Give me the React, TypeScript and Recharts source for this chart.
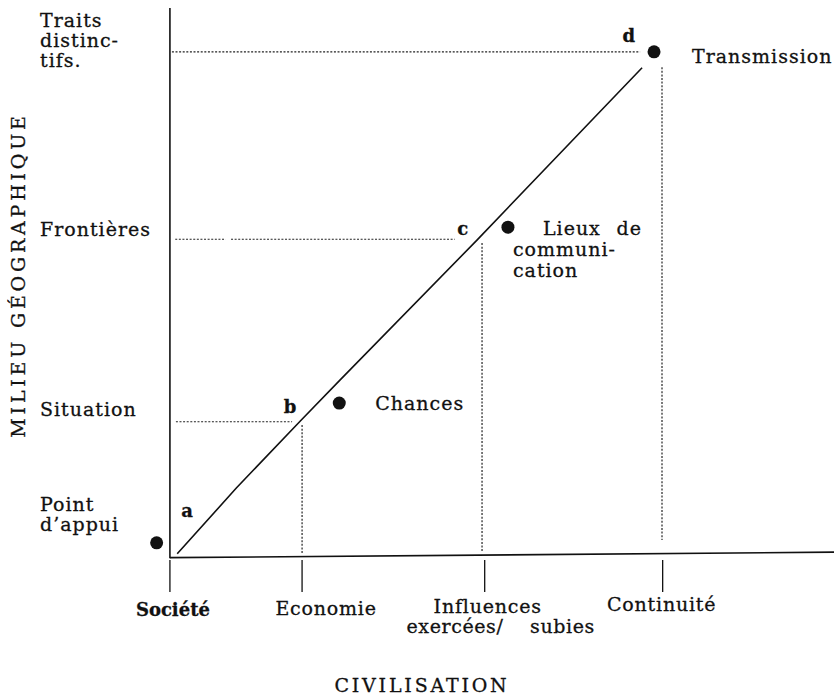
import React from 'react';
import {
  ComposedChart, Line, Scatter, XAxis, YAxis, ReferenceLine, Label,
} from 'recharts';

// curve a -> b -> c -> d
const curveX = [1.1, 10.0, 19.6, 25.6, 46.2, 71.1];
const curveY = [0.4, 12.4, 24.6, 32.1, 57.6, 89.1];

// black dots
const dotNames = ['appui', 'Chances', 'Lieux', 'Transmission'];
const dotX = [-2.0, 25.5, 50.9, 72.9];
const dotY = [2.4, 27.9, 60.0, 92.0];

// small letters along the curve
const letterNames = ['a', 'b', 'c', 'd'];
const letterX = [2.6, 18.1, 44.1, 69.1];
const letterY = [7.1, 26.1, 58.6, 93.8];

// x axis (CIVILISATION)
const xTickValues = [0, 19.9, 47.4, 74.2];
const xTickLabels = ['Société', 'Economie', 'Influences', 'Continuité'];
const xTickSubLabels = ['', '', 'exercées/    subies', ''];

// y axis (MILIEU GÉOGRAPHIQUE)
const yTickValues = [2.4, 24.5, 57.8, 92.0];
const yTickLabels = [['Point', 'd\u2019appui'], ['Situation'], ['Frontières'], ['Traits', 'distinc-', 'tifs.']];

// dotted guides: [x1, y1, x2, y2]
const hGuides = [
  [0.3, 92.0, 70.8, 92.0],
  [0.8, 57.8, 8.4, 57.8],
  [9.2, 57.8, 42.9, 57.8],
  [0.9, 24.5, 18.4, 24.5],
];
const vGuides = [
  [19.9, 23.9, 19.9, 0.5],
  [47.0, 57.1, 47.0, 0.7],
  [74.1, 89.2, 74.1, 2.9],
];

const curve = curveX.map((x, i) => ({ x, y: curveY[i] }));
const dots = dotNames.map((name, i) => ({ name, x: dotX[i], y: dotY[i] }));
const letters = letterNames.map((name, i) => ({ name, x: letterX[i], y: letterY[i] }));

const FONT = "'DejaVu Serif', serif";
const INK = '#111';

const textStyle = {
  fontFamily: FONT, fontSize: 19, letterSpacing: 1, fill: INK, stroke: INK, strokeWidth: 0.3,
};

// text next to dots: [text, dx, dy, anchor]
const DOT_TEXT: Record<string, [string, number, number, string][]> = {
  appui: [],
  Chances: [['Chances', 36, 7, 'start']],
  Lieux: [
    ['Lieux', 35, 8, 'start'],
    ['de', 134, 8, 'end'],
    ['communi-', 5, 29, 'start'],
    ['cation', 5, 50, 'start'],
  ],
  Transmission: [['Transmission', 38, 11, 'start']],
};

const X_DX = [3, 24, 3, -1];
const X_DY = [60, 59, 57, 55];

const Y_DY: number[][] = [[-32, -12], [-6], [-3], [-25, -5, 15]];

function XTick({ x, y, payload }: any) {
  const i = xTickValues.indexOf(payload.value);
  if (i < 0) return null;
  return (
    <g>
      <line x1={x} x2={x} y1={y + 4} y2={y + 36} stroke={INK} strokeWidth={1.3} />
      <text
        x={x + X_DX[i]}
        y={y + X_DY[i]}
        textAnchor="middle"
        style={{
          ...textStyle,
          fontSize: i === 0 ? 18 : 19,
          fontWeight: i === 0 ? 'bold' : 'normal',
          letterSpacing: i === 0 ? 0 : 0.8,
        }}
      >
        {xTickLabels[i]}
      </text>
      {xTickSubLabels[i] && (
        <text x={x + 16} y={y + 77} textAnchor="middle" style={{ ...textStyle, letterSpacing: 0.6, whiteSpace: 'pre' }}>
          {xTickSubLabels[i]}
        </text>
      )}
    </g>
  );
}

function YTick({ y, payload }: any) {
  const i = yTickValues.indexOf(payload.value);
  if (i < 0) return null;
  return (
    <g>
      {yTickLabels[i].map((t, k) => (
        <text key={k} x={40} y={y + Y_DY[i][k]} style={textStyle}>{t}</text>
      ))}
    </g>
  );
}

function DotShape(props: any) {
  const { cx, cy, payload } = props;
  return (
    <g>
      <circle cx={cx} cy={cy} r={6.5} fill={INK} />
      {(DOT_TEXT[payload.name] || []).map(([t, dx, dy, anchor], k) => (
        <text key={k} x={cx + dx} y={cy + dy} textAnchor={anchor as any} style={textStyle}>{t}</text>
      ))}
    </g>
  );
}

function LetterShape(props: any) {
  const { cx, cy, payload } = props;
  return (
    <text x={cx} y={cy} textAnchor="middle" style={{ ...textStyle, fontSize: 18, fontWeight: 'bold', letterSpacing: 0 }}>
      {payload.name}
    </text>
  );
}

function YTitle({ viewBox }: any) {
  const cx = viewBox.x + 25;
  const cy = viewBox.y + viewBox.height / 2 - 7;
  return (
    <text
      x={cx}
      y={cy}
      transform={`rotate(-90, ${cx}, ${cy})`}
      textAnchor="middle"
      style={{ ...textStyle, fontSize: 19, letterSpacing: 3.8 }}
    >
      MILIEU GÉOGRAPHIQUE
    </text>
  );
}

function XTitle({ viewBox }: any) {
  return (
    <text
      x={viewBox.x + 272}
      y={viewBox.y + 136}
      textAnchor="middle"
      style={{ ...textStyle, fontSize: 19, letterSpacing: 2.8 }}
    >
      CIVILISATION
    </text>
  );
}

const dotted = { stroke: '#222', strokeWidth: 1.2, strokeDasharray: '2 1.6', ifOverflow: 'visible' as const };

export default function App() {
  return (
    <div style={{ position: 'absolute', left: 0, top: 0, background: '#fff' }}>
      <ComposedChart width={834} height={698} margin={{ top: 8, right: 0, bottom: 0, left: 0 }}>
        <XAxis
          dataKey="x"
          type="number"
          domain={[-3, 100]}
          ticks={xTickValues}
          allowDataOverflow
          axisLine={false}
          tickLine={false}
          tickSize={0}
          tickMargin={0}
          height={142}
          tick={<XTick />}
        >
          <Label content={<XTitle />} />
        </XAxis>
        <YAxis
          dataKey="y"
          type="number"
          domain={[0, 100]}
          ticks={yTickValues}
          allowDataOverflow
          axisLine={false}
          tickLine={false}
          tickSize={0}
          tickMargin={0}
          width={150}
          tick={<YTick />}
        >
          <Label content={<YTitle />} />
        </YAxis>

        {/* axes */}
        <ReferenceLine segment={[{ x: 0, y: 100 }, { x: 0, y: -0.4 }]} stroke={INK} strokeWidth={1.6} ifOverflow="visible" />
        <ReferenceLine segment={[{ x: 0, y: -0.3 }, { x: 100, y: 0.7 }]} stroke={INK} strokeWidth={1.6} ifOverflow="visible" />

        {hGuides.map((g, i) => (
          <ReferenceLine key={`h${i}`} segment={[{ x: g[0], y: g[1] }, { x: g[2], y: g[3] }]} {...dotted} />
        ))}
        {vGuides.map((g, i) => (
          <ReferenceLine key={`v${i}`} segment={[{ x: g[0], y: g[1] }, { x: g[2], y: g[3] }]} {...dotted} />
        ))}

        <Line
          data={curve}
          dataKey="y"
          type="linear"
          stroke={INK}
          strokeWidth={1.6}
          dot={false}
          activeDot={false}
          isAnimationActive={false}
        />
        <Scatter data={dots} shape={<DotShape />} isAnimationActive={false} />
        <Scatter data={letters} shape={<LetterShape />} isAnimationActive={false} />
      </ComposedChart>
    </div>
  );
}
